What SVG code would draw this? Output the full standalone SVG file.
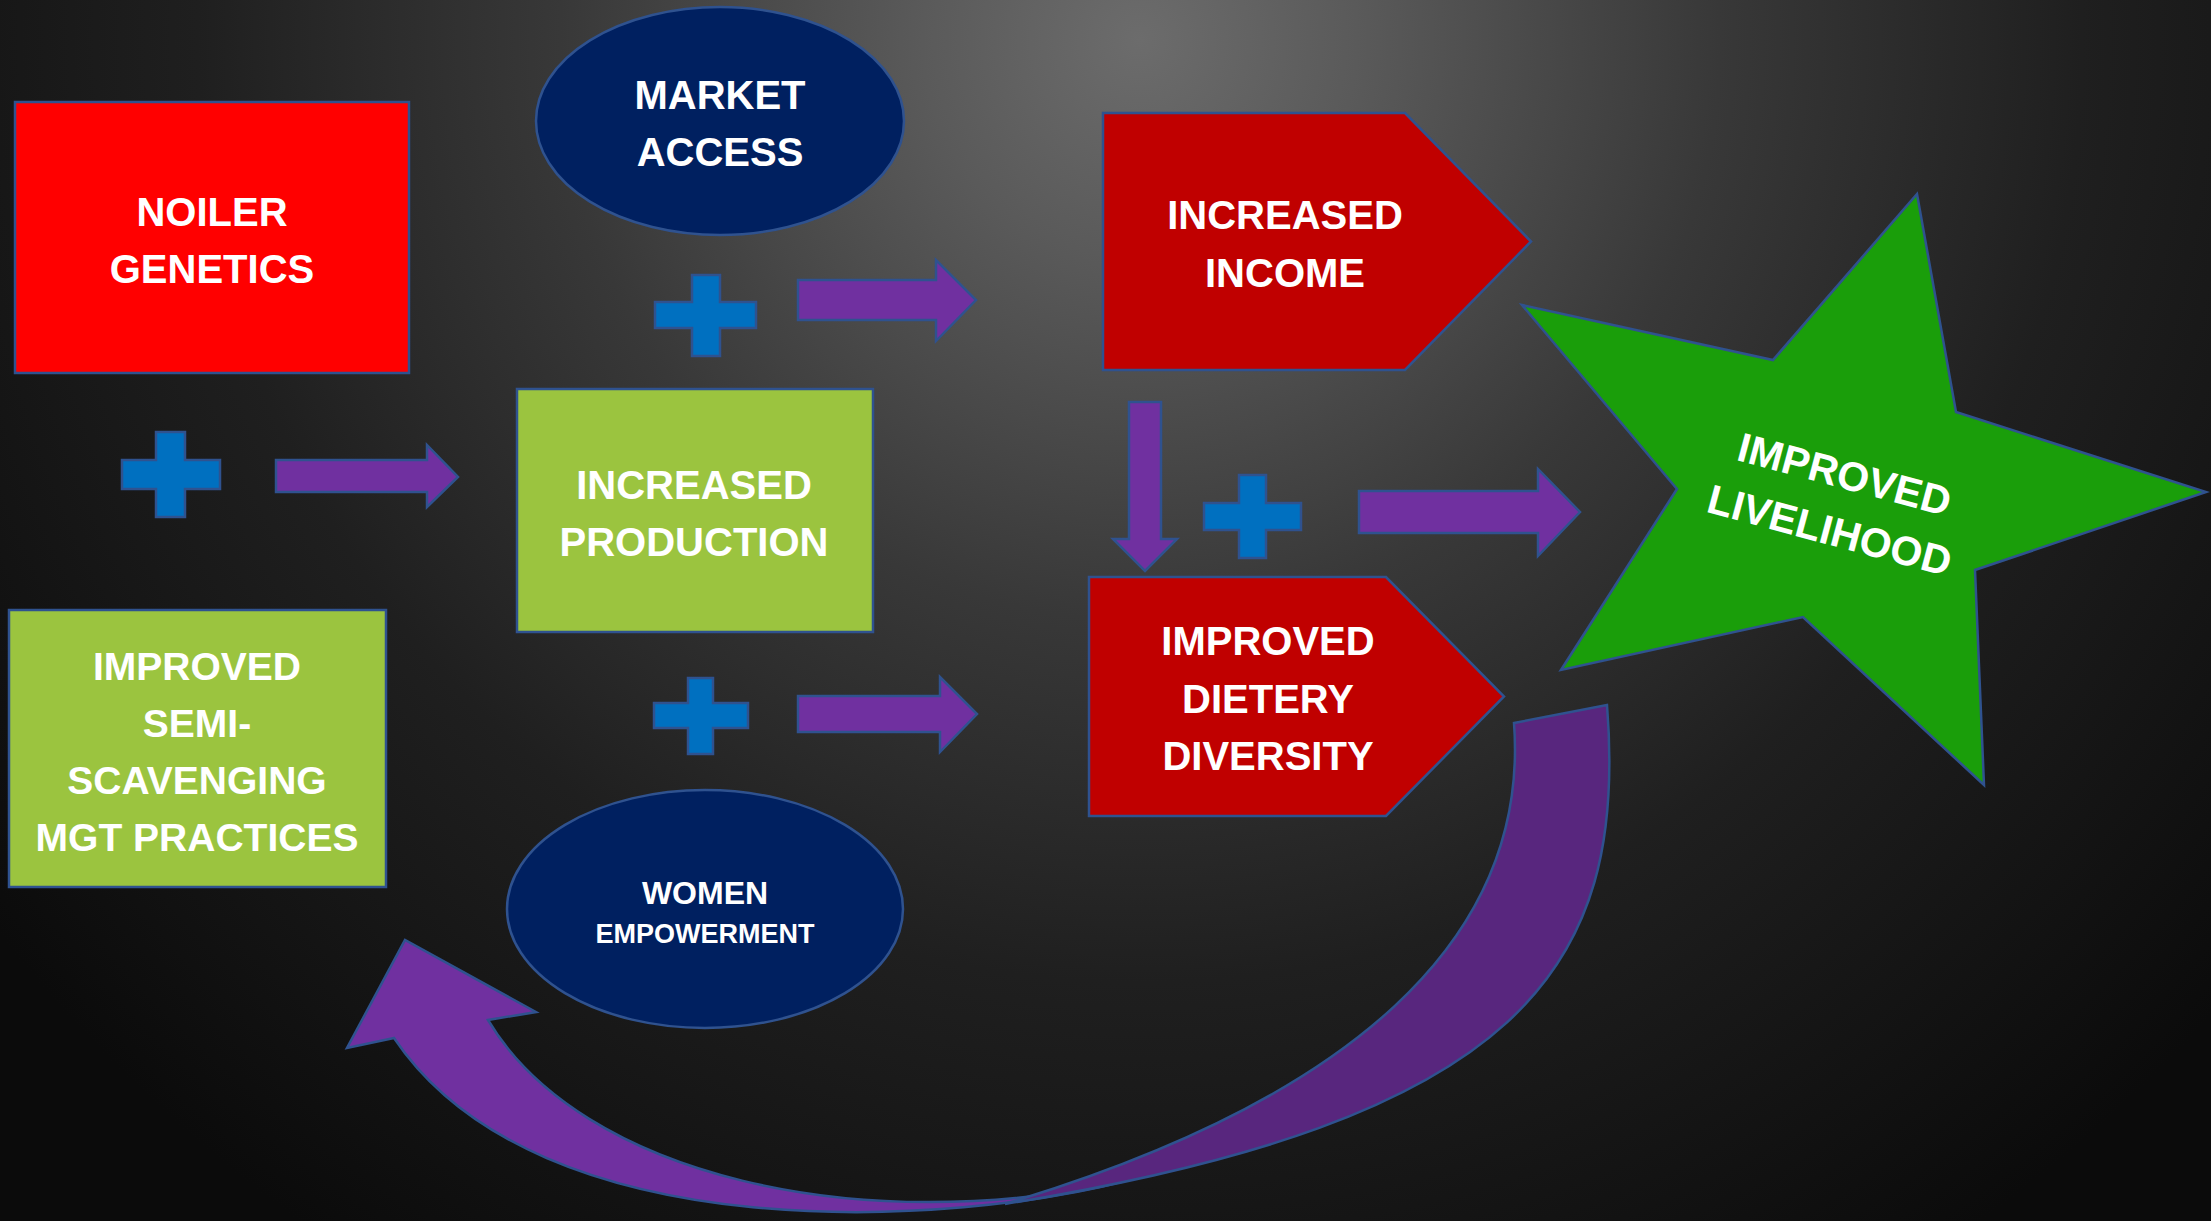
<svg xmlns="http://www.w3.org/2000/svg" width="2211" height="1221" viewBox="0 0 2211 1221">
<defs>
<radialGradient id="bg" gradientUnits="userSpaceOnUse" cx="1140" cy="40" r="1450">
<stop offset="0" stop-color="#6c6c6c"/>
<stop offset="0.15" stop-color="#5a5a5a"/>
<stop offset="0.4" stop-color="#383838"/>
<stop offset="0.65" stop-color="#1f1f1f"/>
<stop offset="1" stop-color="#0b0b0b"/>
</radialGradient>
<style>
.b{stroke:#2f528f;stroke-width:2.5}
.red{fill:#ff0000}
.dred{fill:#c00000}
.green{fill:#9bc43f}
.navy{fill:#002060}
.star{fill:#1a9e0a}
.plus{fill:#0070c0}
.arr{fill:#7030a0}
.arr2{fill:#58267e}
text{font-family:"Liberation Sans",Arial,sans-serif;font-weight:bold;fill:#ffffff;text-anchor:middle}
.t40{font-size:40px}
.t39{font-size:39px}
</style>
</defs>
<rect width="2211" height="1221" fill="url(#bg)"/>

<g id="connectors">
<path class="arr b" d="M276,460 H427 V445 L458,477 L427,507 V492 H276 Z"/>
<path class="arr b" d="M798,280 H936 V260 L976,300 L936,341 V320 H798 Z"/>
<path class="arr b" d="M798,696 H940 V677 L977,714 L940,752 V732 H798 Z"/>
<path class="arr b" d="M1359,491 H1538 V469 L1580,512 L1538,556 V533 H1359 Z"/>
<path class="arr b" d="M1129,402 H1161 V539 H1177 L1145,571 L1113,539 H1129 Z"/>
<path class="arr b" d="M394,1038 L347,1048 L405,940 L536,1012 L488,1020 C580,1175 860,1240 1129,1180 C960,1225 540,1255 394,1038 Z"/>
<path class="arr2 b" d="M1514,723 L1607,705 C1628,970 1520,1120 1005,1204 C1350,1100 1530,940 1514,723 Z"/>
</g>

<g id="plus1"><path class="plus b" d="M156,432 H185 V460 H220 V489 H185 V517 H156 V489 H122 V460 H156 Z"/></g>
<g id="plus2"><path class="plus b" d="M692,275 H720 V302 H756 V328 H720 V356 H692 V328 H655 V302 H692 Z"/></g>
<g id="plus3"><path class="plus b" d="M688,678 H713 V703 H748 V728 H713 V754 H688 V728 H654 V703 H688 Z"/></g>
<g id="plus4"><path class="plus b" d="M1239,475 H1266 V503 H1301 V530 H1266 V558 H1239 V530 H1204 V503 H1239 Z"/></g>

<g id="noiler">
<rect class="red b" x="15" y="102" width="394" height="271"/>
<text class="t40" x="212" y="226">NOILER</text>
<text class="t40" x="212" y="283">GENETICS</text>
</g>

<g id="market">
<ellipse class="navy b" cx="720" cy="121" rx="184" ry="114"/>
<text class="t40" x="720" y="109">MARKET</text>
<text class="t40" x="720" y="166">ACCESS</text>
</g>

<g id="production">
<rect class="green b" x="517" y="389" width="356" height="243"/>
<text class="t40" x="694" y="499">INCREASED</text>
<text class="t40" x="694" y="556">PRODUCTION</text>
</g>

<g id="semi">
<rect class="green b" x="9" y="610" width="377" height="277"/>
<text class="t39" x="197" y="680">IMPROVED</text>
<text class="t39" x="197" y="737">SEMI-</text>
<text class="t39" x="197" y="794">SCAVENGING</text>
<text class="t39" x="197" y="851">MGT PRACTICES</text>
</g>

<g id="women">
<ellipse class="navy b" cx="705" cy="909" rx="198" ry="119"/>
<text x="705" y="904" style="font-size:32px">WOMEN</text>
<text x="705" y="943" style="font-size:27px">EMPOWERMENT</text>
</g>

<g id="income">
<path class="dred b" d="M1103,113 H1405 L1531,241.5 L1405,370 H1103 Z"/>
<text class="t40" x="1285" y="229">INCREASED</text>
<text class="t40" x="1285" y="287">INCOME</text>
</g>

<g id="dietary">
<path class="dred b" d="M1089,577 H1386 L1504,696.5 L1386,816 H1089 Z"/>
<text class="t40" x="1268" y="655">IMPROVED</text>
<text class="t40" x="1268" y="713">DIETERY</text>
<text class="t40" x="1268" y="770">DIVERSITY</text>
</g>

<g id="livelihood">
<path class="star b" d="M1917,194 L1956,412 L2206,492 L1975,570 L1984,785 L1803,617 L1561,670 L1677,489 L1522,305 L1773,360 Z"/>
<text x="1841" y="488" style="font-size:41px" transform="rotate(15 1841 488)">IMPROVED</text>
<text x="1826" y="544" style="font-size:41px" transform="rotate(15 1826 544)">LIVELIHOOD</text>
</g>
</svg>
